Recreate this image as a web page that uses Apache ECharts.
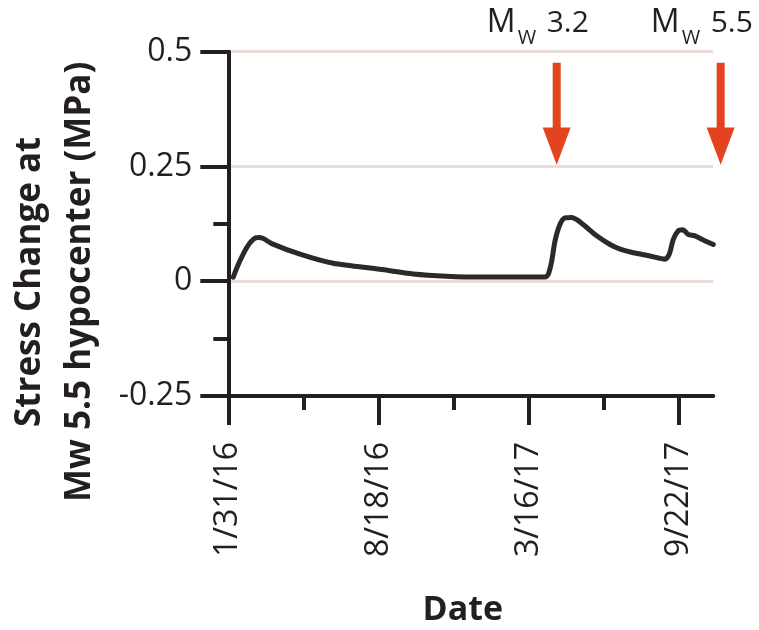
<!DOCTYPE html>
<html>
<head>
<meta charset="utf-8">
<script src="https://cdn.jsdelivr.net/npm/echarts@6/dist/echarts.min.js"></script>
<style>
html,body{margin:0;padding:0;background:#fff;}
#chart{width:759px;height:630px;}
</style>
</head>
<body>
<div id="chart"></div>
<script>
// ---- data (x in tick-spacing units from 1/31/16) ----
const xTickValues = [0, 1, 2, 3];
const xTickLabels = ['1/31/16', '8/18/16', '3/16/17', '9/22/17'];
const xMinorTicks = [0.5, 1.5, 2.5];
const yTickValues = [-0.25, 0, 0.25, 0.5];
const yMinorTicks = [-0.125, 0.125];
const stressX = [0.033, 0.067, 0.122, 0.166, 0.200, 0.233, 0.289, 0.477, 0.699, 1.009, 1.231, 1.453, 1.675, 1.896, 2.107, 2.129, 2.152, 2.174, 2.207, 2.240, 2.285, 2.329, 2.385, 2.451, 2.540, 2.607, 2.695, 2.806, 2.906, 2.934, 2.961, 2.994, 3.023, 3.061, 3.105, 3.160, 3.227];
const stressY = [0.009, 0.037, 0.073, 0.091, 0.095, 0.093, 0.082, 0.059, 0.039, 0.026, 0.016, 0.011, 0.009, 0.009, 0.009, 0.015, 0.044, 0.088, 0.124, 0.138, 0.139, 0.132, 0.117, 0.099, 0.080, 0.070, 0.062, 0.055, 0.048, 0.059, 0.091, 0.110, 0.112, 0.102, 0.099, 0.090, 0.080];
const eventX = [2.185, 3.276];
const eventMag = ['3.2', '5.5'];

const X_MAX = 3.227;
const INK = '#231f20';
const ARROW = '#e3441f';
const FONT = '"Open Sans", "Noto Sans", sans-serif';

const chart = echarts.init(document.getElementById('chart'), null, {renderer: 'canvas'});

const lineData = stressX.map((x, i) => [x, stressY[i]]);

const option = {
  backgroundColor: '#ffffff',
  animation: false,
  grid: {left: 228.3, right: 45.7, top: 51.7, bottom: 234, containLabel: false, outerBoundsMode: 'none'},
  xAxis: [{
    type: 'value', position: 'bottom', min: 0, max: X_MAX, interval: 1,
    axisLine: {show: true, onZero: false, lineStyle: {color: INK, width: 4}},
    axisTick: {show: true, customValues: xTickValues, length: 29, lineStyle: {color: INK, width: 4}},
    axisLabel: {
      show: true, customValues: xTickValues, rotate: 90, margin: 46,
      color: INK, fontFamily: FONT, fontSize: 32, fontWeight: 'normal',
      formatter: v => xTickLabels[xTickValues.indexOf(Math.round(v))] || ''
    },
    splitLine: {show: false},
    name: 'Date', nameLocation: 'middle', nameGap: 197,
    nameTextStyle: {color: INK, fontFamily: FONT, fontSize: 34, fontWeight: 'bold', padding: [0, 16, 0, 0]}
  }, {
    type: 'value', position: 'bottom', min: 0, max: X_MAX, interval: 1,
    axisLine: {show: false, onZero: false},
    axisTick: {show: true, customValues: xMinorTicks, length: 14, lineStyle: {color: INK, width: 4}},
    axisLabel: {show: false}, splitLine: {show: false}
  }],
  yAxis: [{
    type: 'value', position: 'left', min: -0.25, max: 0.5, interval: 0.25,
    axisLine: {show: true, onZero: false, lineStyle: {color: INK, width: 4}},
    axisTick: {show: true, customValues: yTickValues, length: 28, lineStyle: {color: INK, width: 4}},
    axisLabel: {show: true, customValues: yTickValues, margin: 36, color: INK, fontFamily: FONT, fontSize: 32, fontWeight: 'normal'},
    splitLine: {show: true, lineStyle: {color: '#ecdcd7', width: 3}},
    name: 'Stress Change at\nMw 5.5 hypocenter (MPa)', nameLocation: 'middle', nameGap: 123,
    nameTextStyle: {color: INK, fontFamily: FONT, fontSize: 35, fontWeight: 'bold', lineHeight: 50, padding: [0, 116, 0, 0]}
  }, {
    type: 'value', position: 'left', min: -0.25, max: 0.5, interval: 0.25,
    axisLine: {show: false, onZero: false},
    axisTick: {show: true, customValues: yMinorTicks, length: 15, lineStyle: {color: INK, width: 4}},
    axisLabel: {show: false}, splitLine: {show: false}
  }],
  series: [{
    type: 'line', xAxisIndex: 0, yAxisIndex: 0,
    data: lineData, showSymbol: false, smooth: 0.25,
    lineStyle: {color: '#2b2a2a', width: 5, cap: 'round', join: 'round'},
    z: 3
  }, {
    type: 'custom', xAxisIndex: 0, yAxisIndex: 0, clip: false, z: 4,
    data: eventX.map((x, i) => ({value: [x, 0.5], name: eventMag[i]})),
    renderItem: function (params, api) {
      const x = api.value(0);
      const top = api.coord([x, 0.476]);
      const neck = api.coord([x, 0.335]);
      const tip = api.coord([x, 0.254]);
      const ref = api.coord([x, 0.5]);
      const cx = top[0];
      const mag = eventMag[params.dataIndex];
      const big = {fontFamily: FONT, fontSize: 30, fontWeight: 'normal', fill: INK, verticalAlign: 'bottom', align: 'left'};
      const bigM = Object.assign({}, big, {fontSize: 32});
      const small = {fontFamily: FONT, fontSize: 20, fontWeight: 'normal', fill: INK, verticalAlign: 'bottom', align: 'left'};
      return {
        type: 'group',
        children: [{
          type: 'polygon',
          shape: {points: [
            [cx - 4, top[1]], [cx + 4, top[1]], [cx + 4, neck[1]], [cx + 14, neck[1]],
            [cx, tip[1]], [cx - 14, neck[1]], [cx - 4, neck[1]]
          ]},
          style: {fill: ARROW}
        }, {
          type: 'text',
          style: Object.assign({text: 'M', x: cx - 70, y: ref[1] - 12.8}, bigM)
        }, {
          type: 'text',
          style: Object.assign({text: 'W', x: cx - 39, y: ref[1] - 3.5}, small)
        }, {
          type: 'text',
          style: Object.assign({text: mag, x: cx - 10, y: ref[1] - 13.3}, big)
        }]
      };
    }
  }]
};
chart.setOption(option);
</script>
</body>
</html>
